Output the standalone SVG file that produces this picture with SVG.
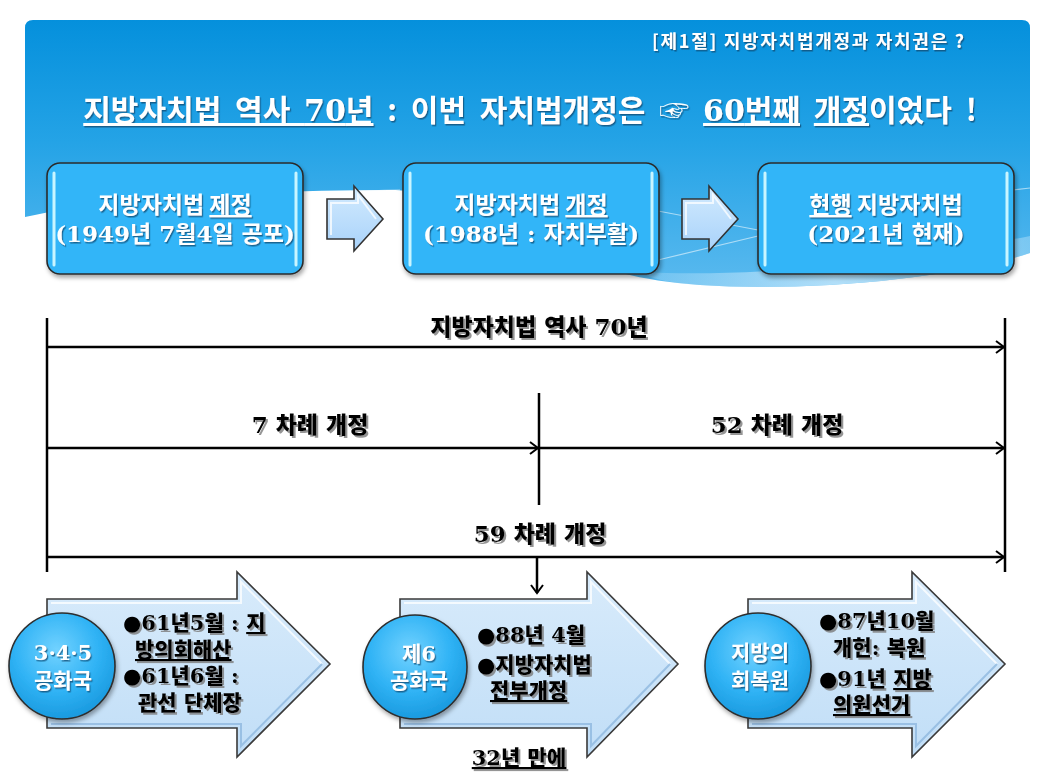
<svg xmlns="http://www.w3.org/2000/svg" width="1037" height="777" viewBox="0 0 1037 777">
<defs>
<style>
.hd{font-family:"Noto Sans CJK KR","Noto Sans",sans-serif;font-weight:700;}
.mx{font-family:"DejaVu Serif","Noto Sans CJK KR",serif;font-weight:700;}
.hv{font-weight:900;}
.ul{text-decoration:underline;}
.box{fill:#31b5f8;stroke:#2b2b2b;stroke-width:1.6;}
.hl{stroke:#c9f5ff;stroke-width:3;stroke-linecap:round;fill:none;}
.tl{stroke:#000;stroke-width:2.5;fill:none;}
.sarrow{fill:url(#smallArrowGrad);stroke:#333;stroke-width:1.6;stroke-linejoin:miter;}
.barrow{fill:url(#bigArrowGrad);stroke:#3a3a3a;stroke-width:1.6;}
.circ{fill:url(#circleGrad);stroke:#2e2e2e;stroke-width:1.6;}
.bevL{fill:none;stroke:#ffffff;stroke-opacity:0.75;stroke-width:2;}
.bevD{fill:none;stroke:#8fb8de;stroke-opacity:0.8;stroke-width:2;}
.wline{stroke:#ffffff;stroke-opacity:0.55;stroke-width:1.2;fill:none;}
</style>
<linearGradient id="panelGrad" x1="0" y1="20" x2="0" y2="290" gradientUnits="userSpaceOnUse">
<stop offset="0" stop-color="#0590dc"/>
<stop offset="0.45" stop-color="#24a3e6"/>
<stop offset="1" stop-color="#5bbaef"/>
</linearGradient>
<linearGradient id="bandGrad" x1="0" y1="0" x2="1" y2="0">
<stop offset="0" stop-color="#c2e6fb" stop-opacity="0.2"/>
<stop offset="0.5" stop-color="#c2e6fb" stop-opacity="0.85"/>
<stop offset="1" stop-color="#c2e6fb" stop-opacity="0.4"/>
</linearGradient>
<linearGradient id="smallArrowGrad" x1="0" y1="0" x2="0" y2="1">
<stop offset="0" stop-color="#d3ebfe"/>
<stop offset="1" stop-color="#a8d2fa"/>
</linearGradient>
<linearGradient id="bigArrowGrad" x1="0" y1="0" x2="0" y2="1">
<stop offset="0" stop-color="#d8ebfb"/>
<stop offset="1" stop-color="#c1def7"/>
</linearGradient>
<radialGradient id="circleGrad" cx="0.45" cy="0.35" r="0.65">
<stop offset="0" stop-color="#72d2ff"/>
<stop offset="0.6" stop-color="#30b3f5"/>
<stop offset="1" stop-color="#1a9adf"/>
</radialGradient>
<filter id="boxShadow" x="-10%" y="-10%" width="125%" height="135%">
<feDropShadow dx="1.5" dy="3" stdDeviation="2" flood-color="#000" flood-opacity="0.35"/>
</filter>
<filter id="wts" x="-5%" y="-20%" width="115%" height="150%">
<feDropShadow dx="1.2" dy="1.5" stdDeviation="0.6" flood-color="#0b4a72" flood-opacity="0.75"/>
</filter>
<filter id="bts" x="-5%" y="-20%" width="115%" height="150%">
<feDropShadow dx="2" dy="2" stdDeviation="0.7" flood-color="#7a7a7a" flood-opacity="0.8"/>
</filter>
<marker id="chev" markerUnits="userSpaceOnUse" markerWidth="12" markerHeight="14" refX="10" refY="7" orient="auto">
<path d="M2,1 L10,7 L2,13" fill="none" stroke="#000" stroke-width="2"/>
</marker>
</defs>

<rect width="1037" height="777" fill="#ffffff"/>

<g id="header">
<path d="M25,217 L25,28 Q25,20 33,20 L1022,20 Q1030,20 1030,28 L1030,253 C950,280 800,292 700,285 C600,278 560,250 500,225 C450,200 420,190 390,190 C250,190 100,200 25,217 Z" fill="url(#panelGrad)"/>
<path d="M640,272 C760,278 900,262 1030,236 L1030,253 C950,280 800,292 700,285 C670,283 655,280 640,272 Z" fill="url(#bandGrad)"/>
<path class="wline" d="M330,194 C360,191 380,190 400,190"/>
<path class="wline" d="M658,211 L758,230"/>
<path class="wline" d="M658,260 L758,236"/>
<path class="wline" d="M1013,190 L1030,188"/>
<text class="hd" x="652" y="48" font-size="18" fill="#fff" textLength="312" lengthAdjust="spacing" filter="url(#wts)">[제1절] 지방자치법개정과 자치권은 ?</text>
<text class="hd" x="530" y="121" font-size="30" fill="#fff" text-anchor="middle" word-spacing="7" filter="url(#wts)"><tspan class="ul">지방자치법 역사 <tspan class="mx">70</tspan>년</tspan> : 이번 자치법개정은 ☞ <tspan class="ul"><tspan class="mx">60</tspan>번째</tspan> <tspan class="ul">개정</tspan>이었다 !</text>
</g>

<g id="node-box1">
<rect class="box" x="47" y="163" width="256" height="111" rx="13" filter="url(#boxShadow)"/>
<line class="hl" x1="54" y1="173" x2="54" y2="265"/>
<line class="hl" x1="296" y1="173" x2="296" y2="265"/>
<g filter="url(#wts)" fill="#fff" text-anchor="middle" font-size="23">
<text class="hd" x="175" y="213">지방자치법 <tspan class="ul">제정</tspan></text>
<text class="mx" x="175" y="242">(1949년 7월4일 공포)</text>
</g>
</g>

<g id="node-box2">
<rect class="box" x="403" y="163" width="256" height="111" rx="13" filter="url(#boxShadow)"/>
<line class="hl" x1="410" y1="173" x2="410" y2="265"/>
<line class="hl" x1="652" y1="173" x2="652" y2="265"/>
<g filter="url(#wts)" fill="#fff" text-anchor="middle" font-size="23">
<text class="hd" x="531" y="213">지방자치법 <tspan class="ul">개정</tspan></text>
<text class="mx" x="531" y="242">(1988년 : 자치부활)</text>
</g>
</g>

<g id="node-box3">
<rect class="box" x="758" y="163" width="256" height="111" rx="13" filter="url(#boxShadow)"/>
<line class="hl" x1="765" y1="173" x2="765" y2="265"/>
<line class="hl" x1="1007" y1="173" x2="1007" y2="265"/>
<g filter="url(#wts)" fill="#fff" text-anchor="middle" font-size="23">
<text class="hd" x="886" y="213"><tspan class="ul">현행</tspan> 지방자치법</text>
<text class="mx" x="886" y="242">(2021년 현재)</text>
</g>
</g>

<g id="flow-arrows">
<path class="sarrow" d="M327,199 L354,199 L354,186 L383,219 L354,251 L354,239 L327,239 Z"/>
<path class="bevL" d="M331,235 L331,203 L358,203 L358,195 L376,219"/>
<path class="sarrow" d="M682,199 L709,199 L709,186 L738,219 L709,251 L709,239 L682,239 Z"/>
<path class="bevL" d="M686,235 L686,203 L713,203 L713,195 L731,219"/>
</g>

<g id="connectors">
<line class="tl" x1="47" y1="318" x2="47" y2="572"/>
<line class="tl" x1="1005" y1="318" x2="1005" y2="572"/>
<line class="tl" x1="539" y1="393" x2="539" y2="505"/>
<line class="tl" x1="47" y1="347" x2="1004" y2="347" marker-end="url(#chev)"/>
<line class="tl" x1="47" y1="448" x2="538" y2="448" marker-end="url(#chev)"/>
<line class="tl" x1="539" y1="448" x2="1004" y2="448" marker-end="url(#chev)"/>
<line class="tl" x1="47" y1="557" x2="1004" y2="557" marker-end="url(#chev)"/>
<line class="tl" x1="537" y1="557" x2="537" y2="593" marker-end="url(#chev)"/>
<g class="mx hv" fill="#000" font-size="23" text-anchor="middle" filter="url(#bts)">
<text x="539" y="335">지방자치법 역사 70년</text>
<text x="310" y="433">7 차례 개정</text>
<text x="777" y="433">52 차례 개정</text>
<text x="540" y="542">59 차례 개정</text>
</g>
</g>

<g id="node-era1">
<path class="barrow" d="M47,599 L237,599 L237,572 L330,664 L237,757 L237,728 L47,728 Z"/>
<path class="bevL" d="M51,603 L241,603 L241,582 L322,664"/>
<path class="bevD" d="M322,664 L241,746 L241,724 L51,724"/>
<circle class="circ" cx="62" cy="666" r="53" filter="url(#boxShadow)"/>
<g class="mx" fill="#fff" font-size="21" text-anchor="middle" filter="url(#wts)">
<text x="63" y="660">3·4·5</text>
<text x="63" y="688">공화국</text>
</g>
<g class="mx hv" fill="#000" font-size="21" filter="url(#bts)">
<text x="123" y="630">●61년5월 : <tspan class="ul">지</tspan></text>
<text x="135" y="657" class="ul">방의회해산</text>
<text x="123" y="683">●61년6월 :</text>
<text x="138" y="710">관선 단체장</text>
</g>
</g>

<g id="node-era2">
<path class="barrow" d="M400,599 L587,599 L587,572 L678,664 L587,757 L587,728 L400,728 Z"/>
<path class="bevL" d="M404,603 L591,603 L591,582 L670,664"/>
<path class="bevD" d="M670,664 L591,746 L591,724 L404,724"/>
<circle class="circ" cx="415" cy="667" r="52" filter="url(#boxShadow)"/>
<g class="mx" fill="#fff" font-size="21" text-anchor="middle" filter="url(#wts)">
<text x="419" y="661">제6</text>
<text x="419" y="688">공화국</text>
</g>
<g class="mx hv" fill="#000" font-size="21" filter="url(#bts)">
<text x="477" y="642">●88년 4월</text>
<text x="477" y="672">●지방자치법</text>
<text x="490" y="698" class="ul">전부개정</text>
</g>
<text class="mx hv ul" x="519" y="765" font-size="21" fill="#000" text-anchor="middle" filter="url(#bts)">32년 만에</text>
</g>

<g id="node-era3">
<path class="barrow" d="M748,599 L912,599 L912,572 L1005,664 L912,757 L912,728 L748,728 Z"/>
<path class="bevL" d="M752,603 L916,603 L916,582 L997,664"/>
<path class="bevD" d="M997,664 L916,746 L916,724 L752,724"/>
<circle class="circ" cx="758" cy="666" r="53" filter="url(#boxShadow)"/>
<g class="mx" fill="#fff" font-size="21" text-anchor="middle" filter="url(#wts)">
<text x="760" y="660">지방의</text>
<text x="760" y="688">회복원</text>
</g>
<g class="mx hv" fill="#000" font-size="21" filter="url(#bts)">
<text x="819" y="628">●87년10월</text>
<text x="833" y="655">개헌: 복원</text>
<text x="819" y="686">●91년 <tspan class="ul">지방</tspan></text>
<text x="833" y="712" class="ul">의원선거</text>
</g>
</g>
</svg>
